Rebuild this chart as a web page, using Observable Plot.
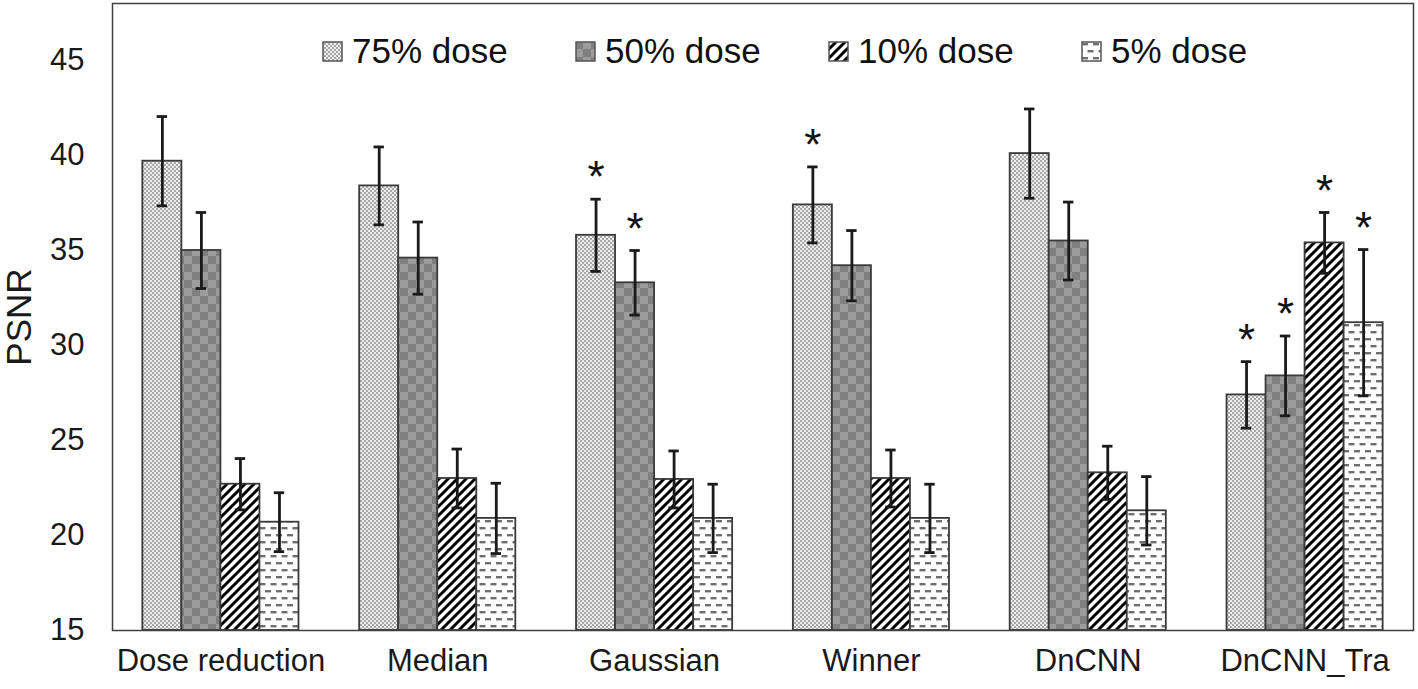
<!DOCTYPE html>
<html>
<head>
<meta charset="utf-8">
<script src="https://cdn.jsdelivr.net/npm/d3@7"></script>
<script src="https://cdn.jsdelivr.net/npm/@observablehq/plot@0.6"></script>
<style>
html, body { margin: 0; padding: 0; background: #fff; }
#wrap { position: relative; width: 1418px; height: 689px; }
#legend { position: absolute; left: 322px; top: 31px; display: flex;
  font-family: "Liberation Sans", Arial, sans-serif; font-size: 35px; color: #111; }
.item { width: 253px; display: flex; align-items: center; height: 40px; white-space: nowrap; }
.item svg { margin-right: 9px; flex: none; }
</style>
</head>
<body>
<svg width="0" height="0" style="position:absolute">
  <defs>
    <pattern id="p75" patternUnits="userSpaceOnUse" width="4" height="4">
      <rect width="4" height="4" fill="#ececec"/>
      <rect x="0" y="0" width="2" height="2" fill="#a8a8a8"/>
      <rect x="2" y="2" width="2" height="2" fill="#a8a8a8"/>
    </pattern>
    <pattern id="p50" patternUnits="userSpaceOnUse" width="16" height="16">
      <rect width="16" height="16" fill="#9c9c9c"/>
      <rect x="0" y="0" width="8" height="8" fill="#808080"/>
      <rect x="8" y="8" width="8" height="8" fill="#808080"/>
    </pattern>
    <pattern id="p10" patternUnits="userSpaceOnUse" width="9" height="9">
      <rect width="9" height="9" fill="#ffffff"/>
      <path d="M-1,1 L1,-1 M0,9 L9,0 M8,10 L10,8" stroke="#000" stroke-width="3"/>
    </pattern>
    <pattern id="p5" patternUnits="userSpaceOnUse" width="11" height="14">
      <rect width="11" height="14" fill="#ffffff"/>
      <rect x="1" y="2" width="6" height="2.4" fill="#6e6e6e"/>
      <rect x="6.5" y="9" width="6" height="2.4" fill="#6e6e6e"/>
      <rect x="-4.5" y="9" width="6" height="2.4" fill="#6e6e6e"/>
    </pattern>
  </defs>
</svg>
<div id="wrap"><div id="legend"></div></div>
<script>
// ---- data ----
const methods = ["Dose reduction", "Median", "Gaussian", "Winner", "DnCNN", "DnCNN_Tra"];
const doses = ["75% dose", "50% dose", "10% dose", "5% dose"];
const psnr75 = [39.7, 38.4, 35.8, 37.4, 40.1, 27.4];
const psnr50 = [35.0, 34.6, 33.3, 34.2, 35.5, 28.4];
const psnr10 = [22.7, 23.0, 22.95, 23.0, 23.3, 35.4];
const psnr5  = [20.7, 20.9, 20.9, 20.9, 21.3, 31.2];
const err75 = [2.35, 2.05, 1.9, 2.0, 2.35, 1.75];
const err50 = [2.0, 1.9, 1.7, 1.85, 2.05, 2.1];
const err10 = [1.35, 1.55, 1.5, 1.5, 1.4, 1.6];
const err5  = [1.55, 1.85, 1.8, 1.8, 1.8, 3.85];
const sig75 = [0, 0, 1, 1, 0, 1];
const sig50 = [0, 0, 1, 0, 0, 1];
const sig10 = [0, 0, 0, 0, 0, 1];
const sig5  = [0, 0, 0, 0, 0, 1];
const yTicks = [15, 20, 25, 30, 35, 40, 45];
const yMin = 15, yMax = 48;

// ---- build table ----
const patternIds = ["p75", "p50", "p10", "p5"];
const values = [psnr75, psnr50, psnr10, psnr5];
const errors = [err75, err50, err10, err5];
const sigs = [sig75, sig50, sig10, sig5];
const barW = 0.18, capW = 0.024;

const rows = [];
doses.forEach((dose, di) => methods.forEach((m, mi) => {
  const x1 = mi + (di - doses.length / 2) * barW;
  rows.push({method: m, dose, di, x1, x2: x1 + barW, xc: x1 + barW / 2,
    v: values[di][mi], e: errors[di][mi], star: sigs[di][mi] === 1});
}));

const marks = [];
doses.forEach((dose, di) => {
  marks.push(Plot.rectY(rows.filter(r => r.di === di), {
    x1: "x1", x2: "x2", y1: yMin, y2: "v",
    fill: `url(#${patternIds[di]})`, stroke: "#3a3a3a", strokeWidth: 1.8
  }));
});
marks.push(Plot.ruleX(rows, {x: "xc", y1: d => d.v - d.e, y2: d => d.v + d.e, stroke: "#1a1a1a", strokeWidth: 2.8}));
marks.push(Plot.ruleY(rows, {y: d => d.v + d.e, x1: d => d.xc - capW, x2: d => d.xc + capW, stroke: "#1a1a1a", strokeWidth: 2.8}));
marks.push(Plot.ruleY(rows, {y: d => d.v - d.e, x1: d => d.xc - capW, x2: d => d.xc + capW, stroke: "#1a1a1a", strokeWidth: 2.8}));
marks.push(Plot.text(rows.filter(r => r.star), {x: "xc", y: d => d.v + d.e, text: () => "*", dy: -21, fontSize: 44, fill: "#111"}));
marks.push(Plot.frame({stroke: "#404040", strokeWidth: 1.5}));

const chart = Plot.plot({
  width: 1418,
  height: 689,
  marginLeft: 112,
  marginRight: 5,
  marginTop: 3,
  marginBottom: 59,
  style: {fontFamily: "'Liberation Sans', Arial, sans-serif", fontSize: "31px", color: "#1a1a1a", background: "white", overflow: "visible"},
  x: {domain: [-0.5, methods.length - 0.5], ticks: d3.range(methods.length), tickFormat: i => methods[i], tickSize: 0, tickPadding: 18, label: null},
  y: {domain: [yMin, yMax], ticks: yTicks, tickSize: 0, tickPadding: 28, label: "PSNR", labelAnchor: "center", labelOffset: 106, labelArrow: "none"},
  marks
});
document.getElementById("wrap").prepend(chart);
chart.querySelectorAll("text").forEach(t => {
  if (t.textContent.trim() === "PSNR") t.setAttribute("font-size", "35px"), t.style.fontSize = "35px";
});

// ---- legend ----
const legend = document.getElementById("legend");
doses.forEach((dose, di) => {
  const item = document.createElement("div");
  item.className = "item";
  item.innerHTML = `<svg width="21" height="21"><rect x="1" y="1" width="19" height="19" fill="url(#${patternIds[di]})" stroke="#555" stroke-width="1.5"/></svg><span>${dose}</span>`;
  legend.appendChild(item);
});
</script>
</body>
</html>
